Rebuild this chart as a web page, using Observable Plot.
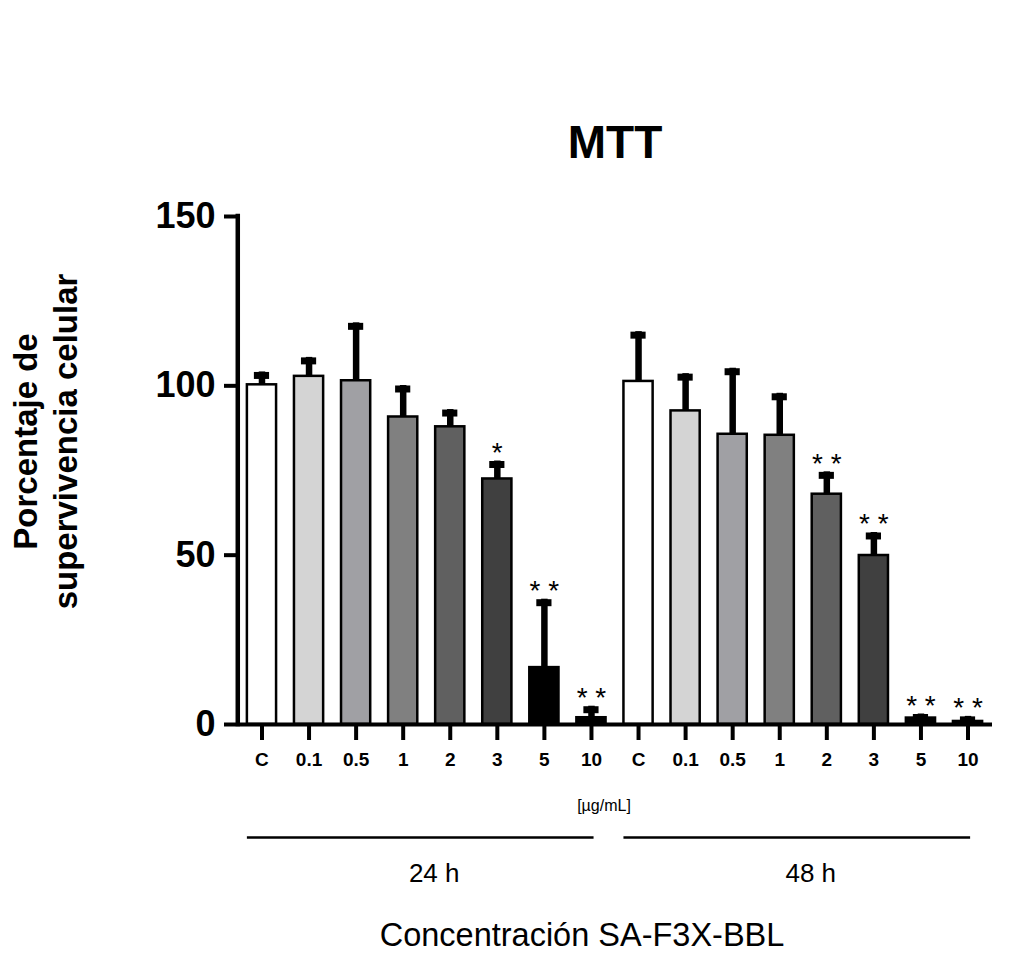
<!DOCTYPE html>
<html><head><meta charset="utf-8">
<script src="https://cdn.jsdelivr.net/npm/d3@7"></script>
<script src="https://cdn.jsdelivr.net/npm/@observablehq/plot@0.6"></script>
<style>html,body{margin:0;padding:0;background:#fff;} #chart{width:1034px;height:961px;}</style>
</head><body><div id="chart"></div>
<script>
const concentrations = ["C", "0.1", "0.5", "1", "2", "3", "5", "10"];
const groups = ["24 h", "48 h"];
const mean24 = [100.3, 102.8, 101.5, 90.8, 87.9, 72.5, 16.8, 2.0];
const sd24   = [3.8, 5.6, 17.1, 9.3, 5.1, 5.3, 20.2, 3.4];
const mean48 = [101.3, 92.6, 85.7, 85.4, 68.0, 49.9, 1.9, 0.9];
const sd48   = [14.7, 11.0, 19.5, 12.4, 6.6, 6.8, 1.2, 1.5];
const sig24  = ["", "", "", "", "", "*", "**", "**"];
const sig48  = ["", "", "", "", "**", "**", "**", "**"];
const barColors = ["#ffffff", "#d4d4d4", "#a0a0a4", "#808080", "#606060", "#404040", "#000000", "#000000"];
const yTicks = [0, 50, 100, 150];
const titleText = "MTT";
const yLabel = "Porcentaje de\nsupervivencia celular";
const unitLabel = "[µg/mL]";
const xTitle = "Concentración SA-F3X-BBL";

const rows = [];
groups.forEach((g, gi) => concentrations.forEach((c, ci) => {
  const mean = gi ? mean48[ci] : mean24[ci];
  const sd = gi ? sd48[ci] : sd24[ci];
  const sig = gi ? sig48[ci] : sig24[ci];
  rows.push({key: c + "|" + g, conc: c, group: g, mean, upper: mean + sd, sig, color: barColors[ci]});
}));
const groupLines = groups.map(g => ({group: g, x1: concentrations[0] + "|" + g, x2: concentrations[concentrations.length - 1] + "|" + g}));
const groupLabels = groups.map(g => ({group: g, key: "1|" + g}));

const F = "Arial, 'Liberation Sans', Helvetica, sans-serif";
const plot = Plot.plot({
  width: 1034, height: 961,
  marginLeft: 237, marginRight: 42, marginTop: 216, marginBottom: 237,
  style: {fontFamily: F, background: "transparent", color: "black", overflow: "visible"},
  x: {domain: rows.map(d => d.key), paddingInner: 0.38, paddingOuter: 0.21, round: false},
  y: {domain: [0, 150]},
  marks: [
    Plot.barY(rows, {x: "key", y: "mean", fill: "color", stroke: "black", strokeWidth: 2.5}),
    Plot.ruleX(rows, {x: "key", y1: "mean", y2: "upper", strokeWidth: 6.5, stroke: "black"}),
    Plot.tickY(rows, {x: "key", y: "upper", dy: 3.5, strokeWidth: 7, insetLeft: 7, insetRight: 7, stroke: "black"}),
    Plot.text(rows.filter(d => d.sig), {x: "key", y: "upper", text: d => d.sig.split("").join(" "), dy: -8, fontSize: 28, lineAnchor: "middle"}),
    Plot.ruleY([0], {strokeWidth: 4}),
    Plot.ruleX([rows[0].key], {y1: 0, y2: 150, dx: -24.2, strokeWidth: 4.5, strokeLinecap: "square"}),
    Plot.axisY({ticks: yTicks, tickSize: 13, tickPadding: 9, fontSize: 36, fontWeight: "bold", strokeWidth: 4, label: null}),
    Plot.axisX({tickSize: 16, tickPadding: 12, fontSize: 19, fontWeight: "bold", strokeWidth: 4, tickFormat: d => d.split("|")[0], label: null}),
    Plot.text([titleText], {frameAnchor: "top", dy: -59, lineAnchor: "bottom", fontSize: 46, fontWeight: "bold"}),
    Plot.text([yLabel], {frameAnchor: "left", dx: -193, dy: -29, rotate: -90, fontSize: 33, fontWeight: "bold", lineHeight: 1.2, lineAnchor: "middle", textAnchor: "middle"}),
    Plot.text([unitLabel], {frameAnchor: "bottom", dx: -11, dy: 86, lineAnchor: "bottom", fontSize: 16}),
    Plot.ruleY(groupLines, {x1: "x1", x2: "x2", y: 0, dy: 113, insetRight: 12, strokeWidth: 2.5}),
    Plot.text(groupLabels, {x: "key", y: 0, text: "group", dy: 157, dx: 31, lineAnchor: "bottom", fontSize: 26}),
    Plot.text([xTitle], {frameAnchor: "bottom", dx: -33, dy: 221, lineAnchor: "bottom", fontSize: 32.5})
  ]
});
document.getElementById("chart").appendChild(plot);
</script>
</body></html>
